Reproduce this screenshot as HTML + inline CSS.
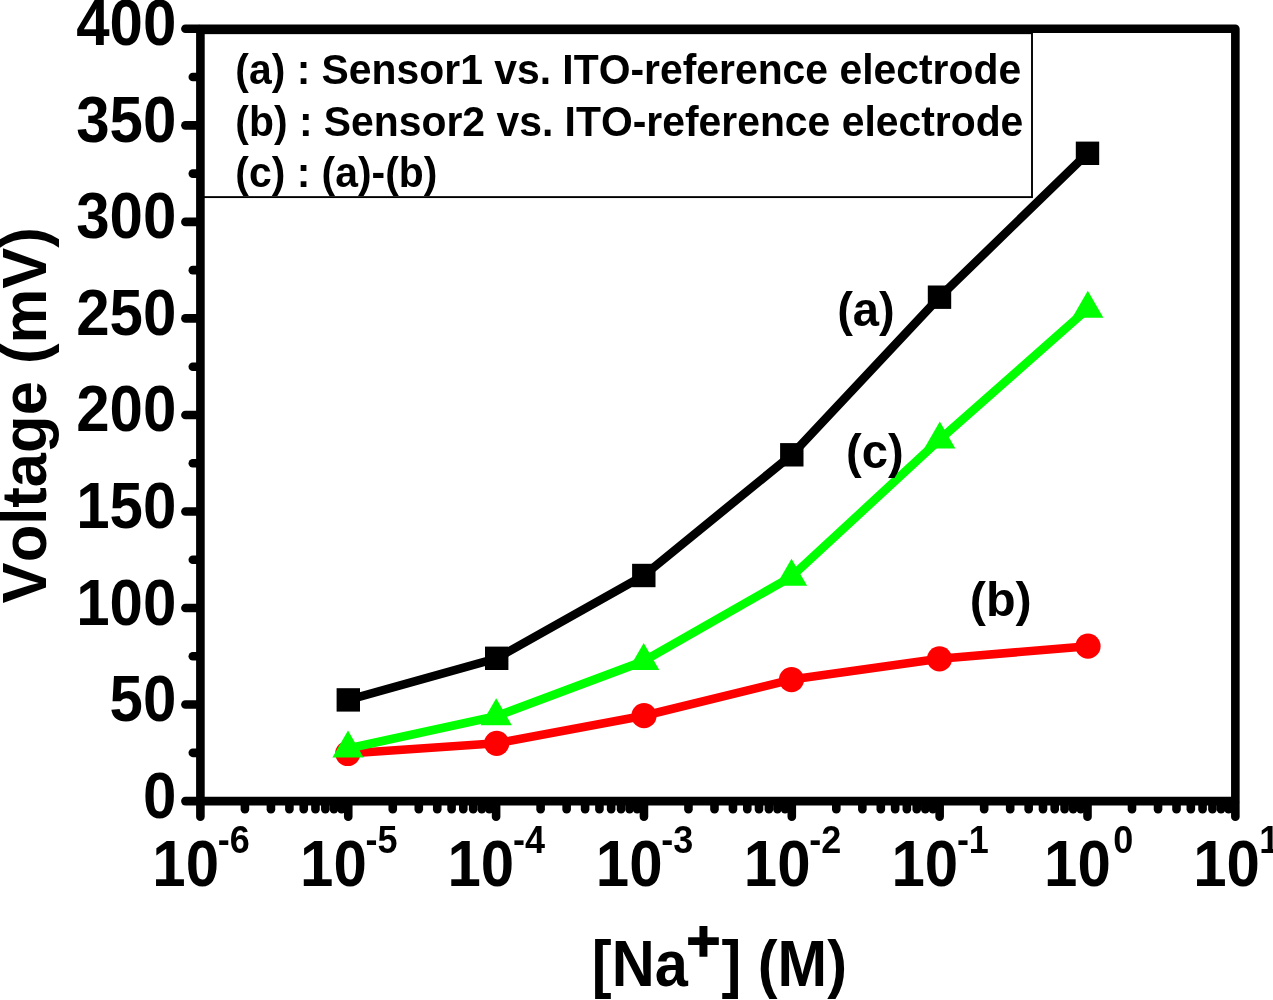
<!DOCTYPE html>
<html><head><meta charset="utf-8"><title>Voltage vs [Na+]</title>
<style>
html,body{margin:0;padding:0;background:#fff;}
svg{display:block;}
text{font-family:"Liberation Sans",sans-serif;font-weight:bold;font-size:100px;font-kerning:none;}
</style></head><body>
<svg width="1273" height="1000" viewBox="0 0 1273 1000">
<rect width="1273" height="1000" fill="#fff"/>
<g stroke="#000" stroke-width="8.6" fill="none" stroke-linecap="round">
<line x1="185.40" y1="801.10" x2="198.40" y2="801.10"/>
<line x1="185.40" y1="704.56" x2="198.40" y2="704.56"/>
<line x1="185.40" y1="608.03" x2="198.40" y2="608.03"/>
<line x1="185.40" y1="511.49" x2="198.40" y2="511.49"/>
<line x1="185.40" y1="414.95" x2="198.40" y2="414.95"/>
<line x1="185.40" y1="318.41" x2="198.40" y2="318.41"/>
<line x1="185.40" y1="221.88" x2="198.40" y2="221.88"/>
<line x1="185.40" y1="125.34" x2="198.40" y2="125.34"/>
<line x1="185.40" y1="28.80" x2="198.40" y2="28.80"/>
<line x1="192.80" y1="752.83" x2="198.40" y2="752.83"/>
<line x1="192.80" y1="656.29" x2="198.40" y2="656.29"/>
<line x1="192.80" y1="559.76" x2="198.40" y2="559.76"/>
<line x1="192.80" y1="463.22" x2="198.40" y2="463.22"/>
<line x1="192.80" y1="366.68" x2="198.40" y2="366.68"/>
<line x1="192.80" y1="270.14" x2="198.40" y2="270.14"/>
<line x1="192.80" y1="173.61" x2="198.40" y2="173.61"/>
<line x1="192.80" y1="77.07" x2="198.40" y2="77.07"/>
<line x1="200.40" y1="803.10" x2="200.40" y2="816.80"/>
<line x1="244.91" y1="803.10" x2="244.91" y2="809.30"/>
<line x1="270.94" y1="803.10" x2="270.94" y2="809.30"/>
<line x1="289.41" y1="803.10" x2="289.41" y2="809.30"/>
<line x1="303.74" y1="803.10" x2="303.74" y2="809.30"/>
<line x1="315.45" y1="803.10" x2="315.45" y2="809.30"/>
<line x1="325.35" y1="803.10" x2="325.35" y2="809.30"/>
<line x1="333.92" y1="803.10" x2="333.92" y2="809.30"/>
<line x1="341.48" y1="803.10" x2="341.48" y2="809.30"/>
<line x1="348.25" y1="803.10" x2="348.25" y2="816.80"/>
<line x1="392.76" y1="803.10" x2="392.76" y2="809.30"/>
<line x1="418.79" y1="803.10" x2="418.79" y2="809.30"/>
<line x1="437.26" y1="803.10" x2="437.26" y2="809.30"/>
<line x1="451.59" y1="803.10" x2="451.59" y2="809.30"/>
<line x1="463.30" y1="803.10" x2="463.30" y2="809.30"/>
<line x1="473.20" y1="803.10" x2="473.20" y2="809.30"/>
<line x1="481.77" y1="803.10" x2="481.77" y2="809.30"/>
<line x1="489.33" y1="803.10" x2="489.33" y2="809.30"/>
<line x1="496.10" y1="803.10" x2="496.10" y2="816.80"/>
<line x1="540.61" y1="803.10" x2="540.61" y2="809.30"/>
<line x1="566.64" y1="803.10" x2="566.64" y2="809.30"/>
<line x1="585.11" y1="803.10" x2="585.11" y2="809.30"/>
<line x1="599.44" y1="803.10" x2="599.44" y2="809.30"/>
<line x1="611.15" y1="803.10" x2="611.15" y2="809.30"/>
<line x1="621.05" y1="803.10" x2="621.05" y2="809.30"/>
<line x1="629.62" y1="803.10" x2="629.62" y2="809.30"/>
<line x1="637.18" y1="803.10" x2="637.18" y2="809.30"/>
<line x1="643.95" y1="803.10" x2="643.95" y2="816.80"/>
<line x1="688.46" y1="803.10" x2="688.46" y2="809.30"/>
<line x1="714.49" y1="803.10" x2="714.49" y2="809.30"/>
<line x1="732.96" y1="803.10" x2="732.96" y2="809.30"/>
<line x1="747.29" y1="803.10" x2="747.29" y2="809.30"/>
<line x1="759.00" y1="803.10" x2="759.00" y2="809.30"/>
<line x1="768.90" y1="803.10" x2="768.90" y2="809.30"/>
<line x1="777.47" y1="803.10" x2="777.47" y2="809.30"/>
<line x1="785.03" y1="803.10" x2="785.03" y2="809.30"/>
<line x1="791.80" y1="803.10" x2="791.80" y2="816.80"/>
<line x1="836.31" y1="803.10" x2="836.31" y2="809.30"/>
<line x1="862.34" y1="803.10" x2="862.34" y2="809.30"/>
<line x1="880.81" y1="803.10" x2="880.81" y2="809.30"/>
<line x1="895.14" y1="803.10" x2="895.14" y2="809.30"/>
<line x1="906.85" y1="803.10" x2="906.85" y2="809.30"/>
<line x1="916.75" y1="803.10" x2="916.75" y2="809.30"/>
<line x1="925.32" y1="803.10" x2="925.32" y2="809.30"/>
<line x1="932.88" y1="803.10" x2="932.88" y2="809.30"/>
<line x1="939.65" y1="803.10" x2="939.65" y2="816.80"/>
<line x1="984.16" y1="803.10" x2="984.16" y2="809.30"/>
<line x1="1010.19" y1="803.10" x2="1010.19" y2="809.30"/>
<line x1="1028.66" y1="803.10" x2="1028.66" y2="809.30"/>
<line x1="1042.99" y1="803.10" x2="1042.99" y2="809.30"/>
<line x1="1054.70" y1="803.10" x2="1054.70" y2="809.30"/>
<line x1="1064.60" y1="803.10" x2="1064.60" y2="809.30"/>
<line x1="1073.17" y1="803.10" x2="1073.17" y2="809.30"/>
<line x1="1080.73" y1="803.10" x2="1080.73" y2="809.30"/>
<line x1="1087.50" y1="803.10" x2="1087.50" y2="816.80"/>
<line x1="1132.01" y1="803.10" x2="1132.01" y2="809.30"/>
<line x1="1158.04" y1="803.10" x2="1158.04" y2="809.30"/>
<line x1="1176.51" y1="803.10" x2="1176.51" y2="809.30"/>
<line x1="1190.84" y1="803.10" x2="1190.84" y2="809.30"/>
<line x1="1202.55" y1="803.10" x2="1202.55" y2="809.30"/>
<line x1="1212.45" y1="803.10" x2="1212.45" y2="809.30"/>
<line x1="1221.02" y1="803.10" x2="1221.02" y2="809.30"/>
<line x1="1228.58" y1="803.10" x2="1228.58" y2="809.30"/>
<line x1="1235.35" y1="803.10" x2="1235.35" y2="816.80"/>
</g>
<rect x="200.40" y="28.80" width="1034.95" height="772.30" fill="none" stroke="#000" stroke-width="8.6" stroke-linejoin="round"/>
<rect x="200.4" y="33.2" width="831.60" height="163.90" fill="none" stroke="#000" stroke-width="1.9"/>
<polyline points="348.3,699.9 496.7,658.3 643.8,575.5 791.8,454.8 939.5,297.2 1087.5,153.3" fill="none" stroke="#000" stroke-width="8.6" stroke-linejoin="round"/>
<rect x="336.6" y="688.2" width="23.4" height="23.4" fill="#000"/>
<rect x="485.0" y="646.6" width="23.4" height="23.4" fill="#000"/>
<rect x="632.1" y="563.8" width="23.4" height="23.4" fill="#000"/>
<rect x="780.1" y="443.1" width="23.4" height="23.4" fill="#000"/>
<rect x="927.8" y="285.5" width="23.4" height="23.4" fill="#000"/>
<rect x="1075.8" y="141.6" width="23.4" height="23.4" fill="#000"/>
<polyline points="347.8,753.5 496.7,743.3 644.0,715.7 791.5,679.6 939.5,658.8 1088.0,646.2" fill="none" stroke="#f00" stroke-width="8.6" stroke-linejoin="round"/>
<circle cx="347.8" cy="753.5" r="12.6" fill="#f00"/>
<circle cx="496.7" cy="743.3" r="12.6" fill="#f00"/>
<circle cx="644.0" cy="715.7" r="12.6" fill="#f00"/>
<circle cx="791.5" cy="679.6" r="12.6" fill="#f00"/>
<circle cx="939.5" cy="658.8" r="12.6" fill="#f00"/>
<circle cx="1088.0" cy="646.2" r="12.6" fill="#f00"/>
<polyline points="348.0,748.5 496.2,716.2 643.7,661.1 791.5,576.7 939.8,439.5 1087.8,308.7" fill="none" stroke="#0f0" stroke-width="8.6" stroke-linejoin="round"/>
<polygon points="348.0,730.5 332.4,757.5 363.6,757.5" fill="#0f0"/>
<polygon points="496.2,698.2 480.6,725.2 511.8,725.2" fill="#0f0"/>
<polygon points="643.7,643.1 628.1,670.1 659.3,670.1" fill="#0f0"/>
<polygon points="791.5,558.7 775.9,585.7 807.1,585.7" fill="#0f0"/>
<polygon points="939.8,421.5 924.2,448.5 955.4,448.5" fill="#0f0"/>
<polygon points="1087.8,290.7 1072.2,317.7 1103.4,317.7" fill="#0f0"/>
<text transform="translate(142.99,817.60) scale(0.6000,0.6470)" fill="#000" >0</text>
<text transform="translate(109.62,721.06) scale(0.6000,0.6470)" fill="#000" >50</text>
<text transform="translate(76.25,624.53) scale(0.6000,0.6470)" fill="#000" >100</text>
<text transform="translate(76.25,527.99) scale(0.6000,0.6470)" fill="#000" >150</text>
<text transform="translate(76.25,431.45) scale(0.6000,0.6470)" fill="#000" >200</text>
<text transform="translate(76.25,334.91) scale(0.6000,0.6470)" fill="#000" >250</text>
<text transform="translate(76.25,238.38) scale(0.6000,0.6470)" fill="#000" >300</text>
<text transform="translate(76.25,141.84) scale(0.6000,0.6470)" fill="#000" >350</text>
<text transform="translate(76.25,45.30) scale(0.6000,0.6470)" fill="#000" >400</text>
<text transform="translate(152.32,886.00) scale(0.6000,0.6550)" fill="#000" >10</text>
<text transform="translate(217.79,852.50) scale(0.3600,0.3930)" fill="#000" >-6</text>
<text transform="translate(300.02,886.00) scale(0.6000,0.6550)" fill="#000" >10</text>
<text transform="translate(365.49,852.50) scale(0.3600,0.3930)" fill="#000" >-5</text>
<text transform="translate(447.47,886.00) scale(0.6000,0.6550)" fill="#000" >10</text>
<text transform="translate(512.94,852.50) scale(0.3600,0.3930)" fill="#000" >-4</text>
<text transform="translate(595.87,886.00) scale(0.6000,0.6550)" fill="#000" >10</text>
<text transform="translate(661.34,852.50) scale(0.3600,0.3930)" fill="#000" >-3</text>
<text transform="translate(743.79,886.00) scale(0.6000,0.6550)" fill="#000" >10</text>
<text transform="translate(809.26,852.50) scale(0.3600,0.3930)" fill="#000" >-2</text>
<text transform="translate(891.42,886.00) scale(0.6000,0.6550)" fill="#000" >10</text>
<text transform="translate(956.89,852.50) scale(0.3600,0.3930)" fill="#000" >-1</text>
<text transform="translate(1044.06,886.00) scale(0.6000,0.6550)" fill="#000" >10</text>
<text transform="translate(1113.21,852.50) scale(0.3600,0.3930)" fill="#000" >0</text>
<text transform="translate(1193.20,886.00) scale(0.6000,0.6550)" fill="#000" >10</text>
<text transform="translate(1259.31,852.50) scale(0.3600,0.3930)" fill="#000" >1</text>
<text transform="translate(235.36,83.90) scale(0.4087,0.4330)" fill="#000" >(a) : Sensor1 vs. ITO-reference electrode</text>
<text transform="translate(235.36,135.80) scale(0.4087,0.4330)" fill="#000" >(b) : Sensor2 vs. ITO-reference electrode</text>
<text transform="translate(235.36,187.10) scale(0.4087,0.4330)" fill="#000" >(c) : (a)-(b)</text>
<text transform="translate(837.15,325.50) scale(0.4720,0.4850)" fill="#000" >(a)</text>
<text transform="translate(969.78,616.30) scale(0.4850,0.4850)" fill="#000" >(b)</text>
<text transform="translate(845.95,467.50) scale(0.4720,0.4850)" fill="#000" >(c)</text>
<text transform="translate(591.86,986.00) scale(0.5950,0.6450)" fill="#000" >[Na</text>
<text transform="translate(686.42,961.20) scale(0.5800,0.5800)" fill="#000" stroke="#000" stroke-width="2.76">+</text>
<text transform="translate(721.43,986.00) scale(0.5950,0.6450)" fill="#000" >] (M)</text>
<text transform="translate(45.5,603.42) rotate(-90) scale(0.6156,0.6360)">Voltage (mV)</text>
</svg>
</body></html>
